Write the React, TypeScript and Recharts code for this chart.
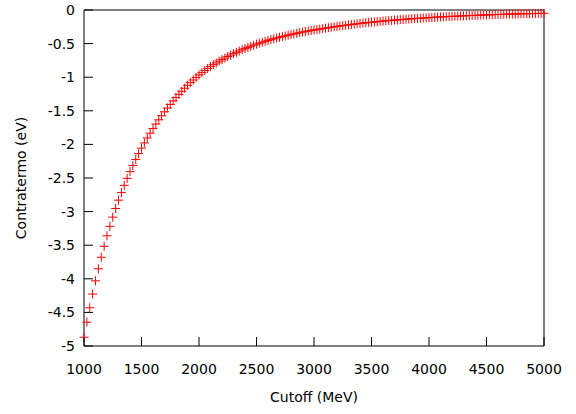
import { ScatterChart, Scatter, XAxis, YAxis } from "recharts";

// cutoff grid (MeV), one point every 25 MeV
const CUTOFF = [
  1000, 1025, 1050, 1075, 1100, 1125, 1150, 1175, 1200, 1225,
  1250, 1275, 1300, 1325, 1350, 1375, 1400, 1425, 1450, 1475,
  1500, 1525, 1550, 1575, 1600, 1625, 1650, 1675, 1700, 1725,
  1750, 1775, 1800, 1825, 1850, 1875, 1900, 1925, 1950, 1975,
  2000, 2025, 2050, 2075, 2100, 2125, 2150, 2175, 2200, 2225,
  2250, 2275, 2300, 2325, 2350, 2375, 2400, 2425, 2450, 2475,
  2500, 2525, 2550, 2575, 2600, 2625, 2650, 2675, 2700, 2725,
  2750, 2775, 2800, 2825, 2850, 2875, 2900, 2925, 2950, 2975,
  3000, 3025, 3050, 3075, 3100, 3125, 3150, 3175, 3200, 3225,
  3250, 3275, 3300, 3325, 3350, 3375, 3400, 3425, 3450, 3475,
  3500, 3525, 3550, 3575, 3600, 3625, 3650, 3675, 3700, 3725,
  3750, 3775, 3800, 3825, 3850, 3875, 3900, 3925, 3950, 3975,
  4000, 4025, 4050, 4075, 4100, 4125, 4150, 4175, 4200, 4225,
  4250, 4275, 4300, 4325, 4350, 4375, 4400, 4425, 4450, 4475,
  4500, 4525, 4550, 4575, 4600, 4625, 4650, 4675, 4700, 4725,
  4750, 4775, 4800, 4825, 4850, 4875, 4900, 4925, 4950, 4975,
  5000,
];

// contratermo (eV)
const CONTRATERMO = [
  -4.87, -4.645, -4.431, -4.227, -4.03, -3.851, -3.68, -3.516, -3.36, -3.219,
  -3.083, -2.954, -2.83, -2.717, -2.609, -2.505, -2.405, -2.313, -2.224, -2.138,
  -2.056, -1.978, -1.904, -1.832, -1.763, -1.697, -1.634, -1.573, -1.515, -1.459,
  -1.405, -1.353, -1.303, -1.255, -1.209, -1.164, -1.121, -1.08, -1.041, -1.003,
  -0.966, -0.933, -0.901, -0.87, -0.84, -0.813, -0.788, -0.762, -0.738, -0.715,
  -0.692, -0.671, -0.65, -0.63, -0.611, -0.592, -0.574, -0.557, -0.54, -0.524,
  -0.508, -0.494, -0.48, -0.466, -0.453, -0.441, -0.429, -0.417, -0.406, -0.395,
  -0.385, -0.375, -0.365, -0.356, -0.347, -0.338, -0.329, -0.321, -0.313, -0.305,
  -0.298, -0.291, -0.284, -0.277, -0.27, -0.263, -0.257, -0.25, -0.244, -0.238,
  -0.232, -0.227, -0.221, -0.216, -0.21, -0.205, -0.2, -0.195, -0.191, -0.186,
  -0.182, -0.178, -0.173, -0.169, -0.165, -0.161, -0.157, -0.154, -0.15, -0.147,
  -0.143, -0.14, -0.137, -0.134, -0.131, -0.128, -0.125, -0.122, -0.119, -0.117,
  -0.114, -0.111, -0.109, -0.106, -0.104, -0.102, -0.099, -0.097, -0.095, -0.093,
  -0.091, -0.089, -0.087, -0.085, -0.083, -0.082, -0.08, -0.078, -0.076, -0.075,
  -0.073, -0.071, -0.07, -0.068, -0.067, -0.066, -0.064, -0.063, -0.062, -0.061,
  -0.059, -0.058, -0.057, -0.056, -0.055, -0.054, -0.053, -0.052, -0.051, -0.05,
  -0.049,
];

const X_TICKS = [1000, 1500, 2000, 2500, 3000, 3500, 4000, 4500, 5000];
const Y_TICKS = [0, -0.5, -1, -1.5, -2, -2.5, -3, -3.5, -4, -4.5, -5];

const data = CUTOFF.map((c, i) => ({ cutoff: c, value: CONTRATERMO[i] }));

const FONT = "'DejaVu Sans', sans-serif";
const TICK_LEN = 9;
const AXIS_COLOR = "#000";

// gnuplot-style ticks point into the plot
const BottomTick = ({ x, y, payload }: any) => (
  <g>
    <line x1={x} x2={x} y1={y} y2={y - TICK_LEN} stroke={AXIS_COLOR} />
    <text x={x} y={y + 28} textAnchor="middle" fontSize={14} fontFamily={FONT} fill="#000">
      {payload.value}
    </text>
  </g>
);

const TopTick = ({ x, y }: any) => (
  <line x1={x} x2={x} y1={y} y2={y + TICK_LEN} stroke={AXIS_COLOR} />
);

const LeftTick = ({ x, y, payload }: any) => (
  <g>
    <line x1={x} x2={x + TICK_LEN} y1={y} y2={y} stroke={AXIS_COLOR} />
    <text x={x - 9} y={y + 5} textAnchor="end" fontSize={14} fontFamily={FONT} fill="#000">
      {payload.value}
    </text>
  </g>
);

const RightTick = ({ x, y }: any) => (
  <line x1={x} x2={x - TICK_LEN} y1={y} y2={y} stroke={AXIS_COLOR} />
);

const Plus = ({ cx, cy }: any) => (
  <g stroke="#ff0000" strokeWidth={1}>
    <line x1={cx - 4.5} x2={cx + 4.5} y1={cy} y2={cy} />
    <line x1={cx} x2={cx} y1={cy - 4.5} y2={cy + 4.5} />
  </g>
);

const XLabel = ({ viewBox }: any) => (
  <text
    x={viewBox.x + viewBox.width / 2}
    y={viewBox.y + 56}
    textAnchor="middle"
    fontSize={14}
    fontFamily={FONT}
    fill="#000"
  >
    Cutoff (MeV)
  </text>
);

const YLabel = ({ viewBox }: any) => {
  const cx = viewBox.x + 26;
  const cy = viewBox.y + viewBox.height / 2;
  return (
    <text
      x={cx}
      y={cy}
      transform={`rotate(-90 ${cx} ${cy})`}
      textAnchor="middle"
      fontSize={14}
      fontFamily={FONT}
      fill="#000"
    >
      Contratermo (eV)
    </text>
  );
};

export default function App() {
  return (
    <div style={{ position: "absolute", left: 0, top: 0, background: "#fff" }}>
      <ScatterChart
        width={576}
        height={414}
        margin={{ top: 9, right: 31, bottom: 67, left: 0 }}
      >
        <XAxis
          xAxisId="b"
          dataKey="cutoff"
          type="number"
          domain={[1000, 5000]}
          ticks={X_TICKS}
          interval={0}
          height={1}
          tickSize={0}
          tickMargin={0}
          tickLine={false}
          tick={<BottomTick />}
          axisLine={{ stroke: AXIS_COLOR }}
          label={<XLabel />}
        />
        <XAxis
          xAxisId="t"
          dataKey="cutoff"
          orientation="top"
          type="number"
          domain={[1000, 5000]}
          ticks={X_TICKS}
          interval={0}
          height={1}
          tickSize={0}
          tickMargin={0}
          tickLine={false}
          tick={<TopTick />}
          axisLine={{ stroke: AXIS_COLOR }}
        />
        <YAxis
          yAxisId="l"
          dataKey="value"
          type="number"
          domain={[-5, 0]}
          ticks={Y_TICKS}
          interval={0}
          width={84}
          tickSize={0}
          tickMargin={0}
          tickLine={false}
          tick={<LeftTick />}
          axisLine={{ stroke: AXIS_COLOR }}
          label={<YLabel />}
        />
        <YAxis
          yAxisId="r"
          dataKey="value"
          orientation="right"
          type="number"
          domain={[-5, 0]}
          ticks={Y_TICKS}
          interval={0}
          width={1}
          tickSize={0}
          tickMargin={0}
          tickLine={false}
          tick={<RightTick />}
          axisLine={{ stroke: AXIS_COLOR }}
        />
        <Scatter
          xAxisId="b"
          yAxisId="l"
          data={data}
          shape={<Plus />}
          isAnimationActive={false}
        />
      </ScatterChart>
    </div>
  );
}
